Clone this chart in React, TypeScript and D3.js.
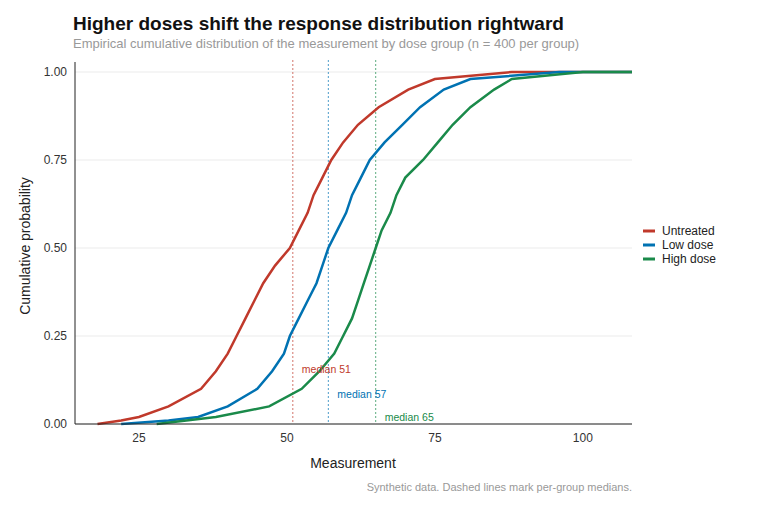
import React from "react";
import * as d3 from "d3";

const probs = [0, 0.01, 0.02, 0.05, 0.1, 0.15, 0.2, 0.25, 0.3, 0.35, 0.4, 0.45, 0.5, 0.55, 0.6, 0.65, 0.7, 0.75, 0.8, 0.85, 0.9, 0.95, 0.98, 1];
const untreatedX = [18, 22, 25, 30, 35.5, 38, 40, 41.5, 43, 44.5, 46, 48, 50.5, 52, 53.5, 54.5, 56, 57.5, 59.5, 62, 65.5, 70.5, 75, 88];
const lowDoseX = [22, 30, 35, 40, 45, 47.5, 49.5, 50.5, 52, 53.5, 55, 56, 57, 58.5, 60, 61, 62.5, 64, 66.5, 69.5, 72.5, 76.5, 81, 96];
const highDoseX = [28, 33, 38, 47, 52.5, 55.5, 58, 59.5, 61, 62, 63, 64, 65, 66, 67.5, 68.5, 70, 73, 75.5, 78, 81, 85, 88, 100];
const groups = ["Untreated", "Low dose", "High dose"];
const colors = ["#c0392b", "#0072b2", "#1a8a4a"];
const medians = [51, 57, 65];
const medianLabelY = [0.155, 0.085, 0.02];
const xTicks = [25, 50, 75, 100];
const yTicks = [0, 0.25, 0.5, 0.75, 1];

export default function App() {
  const L = 75, R = 632, T = 72, B = 424;
  const x = d3.scaleLinear().domain([14.2, 108.3]).range([L, R]);
  const y = d3.scaleLinear().domain([0, 1]).range([B, T]);
  const series = [untreatedX, lowDoseX, highDoseX];
  const line = d3.line<[number, number]>().x(d => x(d[0])).y(d => y(d[1]));
  const font = "'Liberation Sans', Arial, sans-serif";
  return (
    <svg width={760} height={506} style={{ position: "absolute", left: 0, top: 0, fontFamily: font }}>
      <rect width={760} height={506} fill="#fff" />
      <text x={73} y={30} fontSize={19} fontWeight="bold" fill="#111">Higher doses shift the response distribution rightward</text>
      <text x={73} y={48} fontSize={13} fill="#999">Empirical cumulative distribution of the measurement by dose group (n = 400 per group)</text>
      {yTicks.map(t => (
        <g key={t}>
          <line x1={L} x2={R} y1={y(t)} y2={y(t)} stroke="#ebebeb" />
          <text x={L - 8} y={y(t) + 4} fontSize={12} textAnchor="end" fill="#333">{t.toFixed(2)}</text>
        </g>
      ))}
      {xTicks.map(t => (
        <text key={t} x={x(t)} y={B + 18} fontSize={12} textAnchor="middle" fill="#333">{t}</text>
      ))}
      {series.map((s, i) => (
        <line key={"m" + i} x1={x(medians[i])} x2={x(medians[i])} y1={T - 12} y2={B} stroke={colors[i]} strokeOpacity={0.7} strokeDasharray="2,2" />
      ))}
      {series.map((s, i) => (
        <path key={i} d={line(s.map((v, j) => [v, probs[j]] as [number, number]).concat([[108.3, 1]])) || ""} fill="none" stroke={colors[i]} strokeWidth={2.5} />
      ))}
      {medians.map((m, i) => (
        <text key={"l" + i} x={x(m) + 9} y={y(medianLabelY[i]) + 4} fontSize={10.5} fill={colors[i]}>median {m}</text>
      ))}
      <line x1={L} x2={L} y1={T - 10} y2={B} stroke="#222" />
      <line x1={L} x2={R} y1={B} y2={B} stroke="#222" />
      <text x={353} y={468} fontSize={14} textAnchor="middle" fill="#222">Measurement</text>
      <text transform={`translate(30,${(T + B) / 2 - 2}) rotate(-90)`} fontSize={14} textAnchor="middle" fill="#222">Cumulative probability</text>
      {groups.map((g, i) => (
        <g key={g}>
          <line x1={643} x2={655} y1={231 + i * 14} y2={231 + i * 14} stroke={colors[i]} strokeWidth={3} />
          <text x={662} y={235 + i * 14} fontSize={12} fill="#222">{g}</text>
        </g>
      ))}
      <text x={632} y={491} fontSize={11} textAnchor="end" fill="#999">Synthetic data. Dashed lines mark per-group medians.</text>
    </svg>
  );
}
